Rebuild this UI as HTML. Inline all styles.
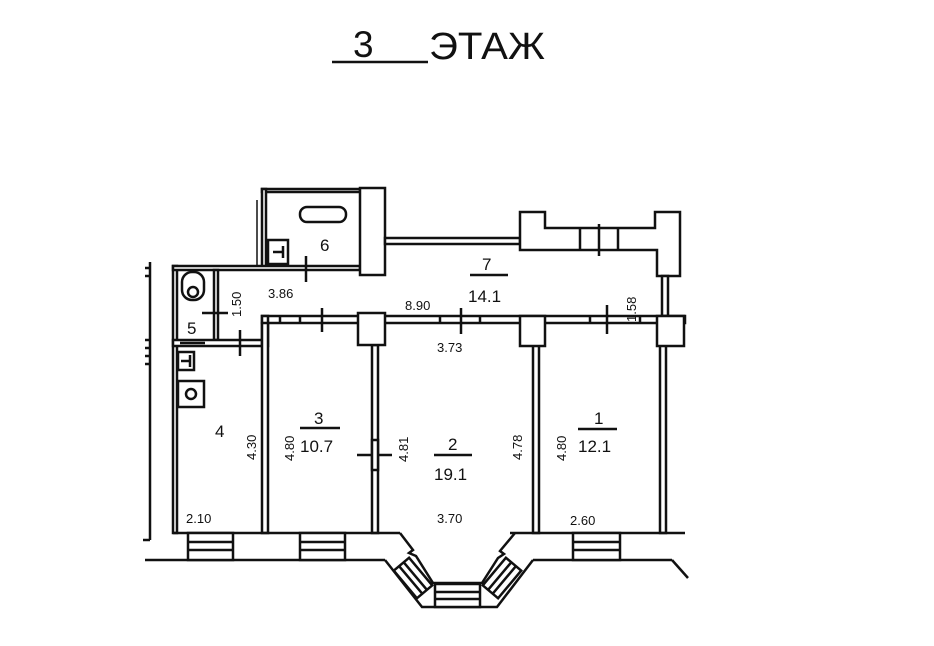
<!DOCTYPE html>
<html><head><meta charset="utf-8"><style>
html,body{margin:0;padding:0;background:#fff;}
svg{display:block}
text{font-family:"Liberation Sans",sans-serif;fill:#111}
</style></head><body>
<svg width="934" height="646" viewBox="0 0 934 646" xmlns="http://www.w3.org/2000/svg">
<rect width="934" height="646" fill="#fff"/>
<!-- title -->
<text x="353" y="57" font-size="37">3</text>
<line x1="332" y1="62" x2="428" y2="62" stroke="#111" stroke-width="2.5"/>
<text x="429" y="59" font-size="38" textLength="116" lengthAdjust="spacingAndGlyphs">ЭТАЖ</text>

<g fill="#fff" stroke="#111" stroke-width="2.5">
<line x1="150" y1="262" x2="150" y2="540"/>
<line x1="145" y1="268" x2="150" y2="268"/><line x1="145" y1="276" x2="150" y2="276"/>
<line x1="145" y1="340" x2="150" y2="340"/><line x1="145" y1="348" x2="150" y2="348"/><line x1="145" y1="356" x2="150" y2="356"/><line x1="145" y1="364" x2="150" y2="364"/>
<line x1="143" y1="540" x2="150" y2="540"/>
<rect x="173" y="266" width="4" height="267"/>
<rect x="262" y="189" width="98" height="3"/>
<rect x="262" y="189" width="4" height="78"/>
<line x1="257" y1="200" x2="257" y2="265" stroke-width="1.5"/>
<rect x="173" y="266" width="187" height="4"/>
<rect x="360" y="188" width="25" height="87"/>
<rect x="385" y="238" width="135" height="6"/>
<polygon points="520,212 545,212 545,228 655,228 655,212 680,212 680,276 657,276 657,250 520,250"/>
<line x1="580" y1="228" x2="580" y2="250"/><line x1="618" y1="228" x2="618" y2="250"/>
<line x1="599" y1="224" x2="599" y2="256"/>
<rect x="662" y="276" width="6" height="40"/>
<rect x="214" y="270" width="4" height="70"/>
<rect x="173" y="340" width="92" height="6"/>
<line x1="180" y1="343" x2="205" y2="343"/>
<rect x="262" y="316" width="423" height="7"/>
<rect x="262" y="316" width="6" height="30"/>
<rect x="262" y="323" width="6" height="210"/>
<rect x="372" y="345" width="6" height="188"/>
<rect x="533" y="345" width="6" height="188"/>
<rect x="660" y="345" width="6" height="188"/>
<rect x="358" y="313" width="27" height="32"/>
<rect x="520" y="316" width="25" height="30"/>
<rect x="657" y="316" width="27" height="30"/>
<line x1="173" y1="533" x2="400" y2="533"/>
<line x1="145" y1="560" x2="385" y2="560"/>
<line x1="510" y1="533" x2="685" y2="533"/>
<line x1="533" y1="560" x2="672" y2="560"/>
<line x1="672" y1="560" x2="688" y2="578"/>
<polyline fill="none" points="400,533 413,550 409,553 416,556 433,583 482,583 498,558 504,554 500,551 515,533"/>
<polyline fill="none" points="385,560 422,607 497,607 533,560"/>
<rect x="188" y="533" width="45" height="27"/><line x1="188" y1="542" x2="233" y2="542"/><line x1="188" y1="550" x2="233" y2="550"/>
<rect x="300" y="533" width="45" height="27"/><line x1="300" y1="542" x2="345" y2="542"/><line x1="300" y1="550" x2="345" y2="550"/>
<rect x="573" y="533" width="47" height="27"/><line x1="573" y1="542" x2="620" y2="542"/><line x1="573" y1="550" x2="620" y2="550"/>
<rect x="435" y="584" width="45" height="23"/><line x1="435" y1="592" x2="480" y2="592"/><line x1="435" y1="599" x2="480" y2="599"/>
<g transform="translate(413,578) rotate(50)"><rect x="-18" y="-10" width="36" height="20"/><line x1="-18" y1="-3" x2="18" y2="-3"/><line x1="-18" y1="3" x2="18" y2="3"/></g>
<g transform="translate(502,578) rotate(-50)"><rect x="-18" y="-10" width="36" height="20"/><line x1="-18" y1="-3" x2="18" y2="-3"/><line x1="-18" y1="3" x2="18" y2="3"/></g>
<rect x="300" y="207" width="46" height="15" rx="7"/>
<rect x="268" y="240" width="20" height="24"/>
<line x1="273" y1="252" x2="283" y2="252"/><line x1="283" y1="246" x2="283" y2="258"/>
<rect x="182" y="272" width="22" height="28" rx="10"/>
<circle cx="193" cy="292" r="5"/>
<rect x="178" y="352" width="16" height="18"/>
<line x1="181" y1="361" x2="190" y2="361"/><line x1="190" y1="355" x2="190" y2="367"/>
<rect x="178" y="381" width="26" height="26"/>
<circle cx="191" cy="394" r="5"/>
<line x1="306" y1="256" x2="306" y2="282"/>
<line x1="202" y1="313" x2="228" y2="313"/>
<line x1="240" y1="330" x2="240" y2="356"/>
<line x1="322" y1="308" x2="322" y2="332"/>
<line x1="461" y1="308" x2="461" y2="334"/>
<line x1="607" y1="305" x2="607" y2="334"/>
<line x1="357" y1="455" x2="392" y2="455"/>
<rect x="372" y="440" width="6" height="30"/>
<line x1="280" y1="322" x2="280" y2="316"/><line x1="300" y1="322" x2="300" y2="316"/>
<line x1="440" y1="323" x2="440" y2="316"/><line x1="480" y1="323" x2="480" y2="316"/>
<line x1="590" y1="323" x2="590" y2="316"/><line x1="640" y1="323" x2="640" y2="316"/>
<line x1="470" y1="275" x2="508" y2="275"/>
<line x1="300" y1="428" x2="340" y2="428"/>
<line x1="434" y1="455" x2="472" y2="455"/>
<line x1="578" y1="429" x2="617" y2="429"/>
</g>

<g font-size="17">
<text x="320" y="251">6</text>
<text x="482" y="270">7</text>
<text x="468" y="302">14.1</text>
<text x="187" y="334">5</text>
<text x="215" y="437">4</text>
<text x="314" y="424">3</text>
<text x="300" y="452">10.7</text>
<text x="448" y="450">2</text>
<text x="434" y="480">19.1</text>
<text x="594" y="424">1</text>
<text x="578" y="452">12.1</text>
</g>
<g font-size="13">
<text x="268" y="298">3.86</text>
<text x="405" y="310">8.90</text>
<text x="437" y="352">3.73</text>
<text x="186" y="523">2.10</text>
<text x="437" y="523">3.70</text>
<text x="570" y="525">2.60</text>
<text transform="translate(241,317) rotate(-90)">1.50</text>
<text transform="translate(636,322) rotate(-90)">1.58</text>
<text transform="translate(256,460) rotate(-90)">4.30</text>
<text transform="translate(294,461) rotate(-90)">4.80</text>
<text transform="translate(408,462) rotate(-90)">4.81</text>
<text transform="translate(522,460) rotate(-90)">4.78</text>
<text transform="translate(566,461) rotate(-90)">4.80</text>
</g>
</svg>
</body></html>
